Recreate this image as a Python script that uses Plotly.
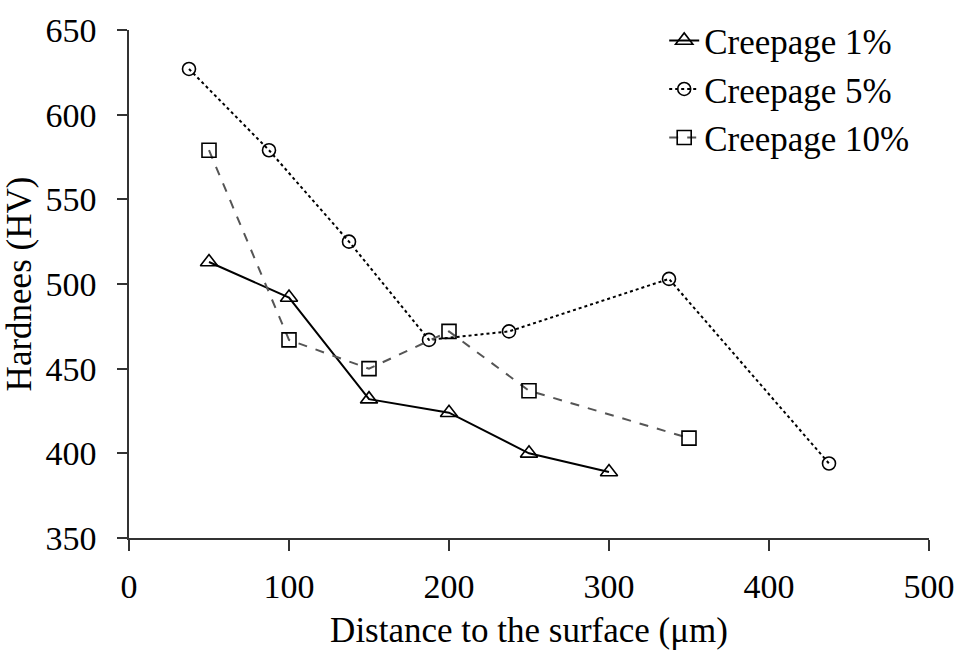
import plotly.graph_objects as go

# Data
x_1 = [50, 100, 150, 200, 250, 300]
y_1 = [513, 492, 432, 424, 400, 389]

x_5 = [37.5, 87.5, 137.5, 187.5, 237.5, 337.5, 437.5]
y_5 = [627, 579, 525, 467, 472, 503, 394]

x_10 = [50, 100, 150, 200, 250, 350]
y_10 = [579, 467, 450, 472, 437, 409]

names = ["Creepage 1%", "Creepage 5%", "Creepage 10%"]

FONT = "Liberation Serif, Times New Roman, serif"

fig = go.Figure()
fig.add_trace(go.Scatter(
    x=x_1, y=y_1, name=names[0], mode="lines+markers",
    line=dict(color="black", width=2, dash="solid"),
    marker=dict(symbol="triangle-up-open", size=15, color="black", line=dict(width=1.6)),
))
fig.add_trace(go.Scatter(
    x=x_5, y=y_5, name=names[1], mode="lines+markers",
    line=dict(color="black", width=2, dash="dot"),
    marker=dict(symbol="circle-open", size=13, color="black", line=dict(width=1.6)),
))
fig.add_trace(go.Scatter(
    x=x_10, y=y_10, name=names[2], mode="lines+markers",
    line=dict(color="#555555", width=2, dash="dash"),
    marker=dict(symbol="square-open", size=14, color="black", line=dict(width=1.6)),
))

fig.update_layout(
    width=961, height=651,
    margin=dict(l=129, r=32, t=29, b=113),
    paper_bgcolor="white", plot_bgcolor="white",
    font=dict(family=FONT, size=34, color="black"),
    showlegend=True,
    legend=dict(
        x=0.669, y=1.035, xanchor="left", yanchor="top",
        bgcolor="rgba(0,0,0,0)", borderwidth=0,
        font=dict(family=FONT, size=35, color="black"),
        itemwidth=30,
    ),
    xaxis=dict(
        range=[0, 500], tickvals=[0, 100, 200, 300, 400, 500],
        automargin=False,
        showgrid=False, zeroline=False,
        showline=True, linecolor="#333333", linewidth=1.5,
        ticks="outside", ticklen=11, tickwidth=1.5, tickcolor="#333333",
        tickfont=dict(family=FONT, size=34, color="black"),
        ticklabelstandoff=6,
        title=dict(text="Distance to the surface (μm)", standoff=14,
                   font=dict(family=FONT, size=35, color="black")),
    ),
    yaxis=dict(
        range=[350, 650], tickvals=[350, 400, 450, 500, 550, 600, 650],
        automargin=False,
        showgrid=False, zeroline=False,
        showline=True, linecolor="#333333", linewidth=1.5,
        ticks="outside", ticklen=10, tickwidth=1.5, tickcolor="#333333",
        tickfont=dict(family=FONT, size=34, color="black"),
        ticklabelstandoff=14,
        title=dict(text="Hardnees (HV)", standoff=8,
                   font=dict(family=FONT, size=35, color="black")),
    ),
)

fig.write_html("out.html")
